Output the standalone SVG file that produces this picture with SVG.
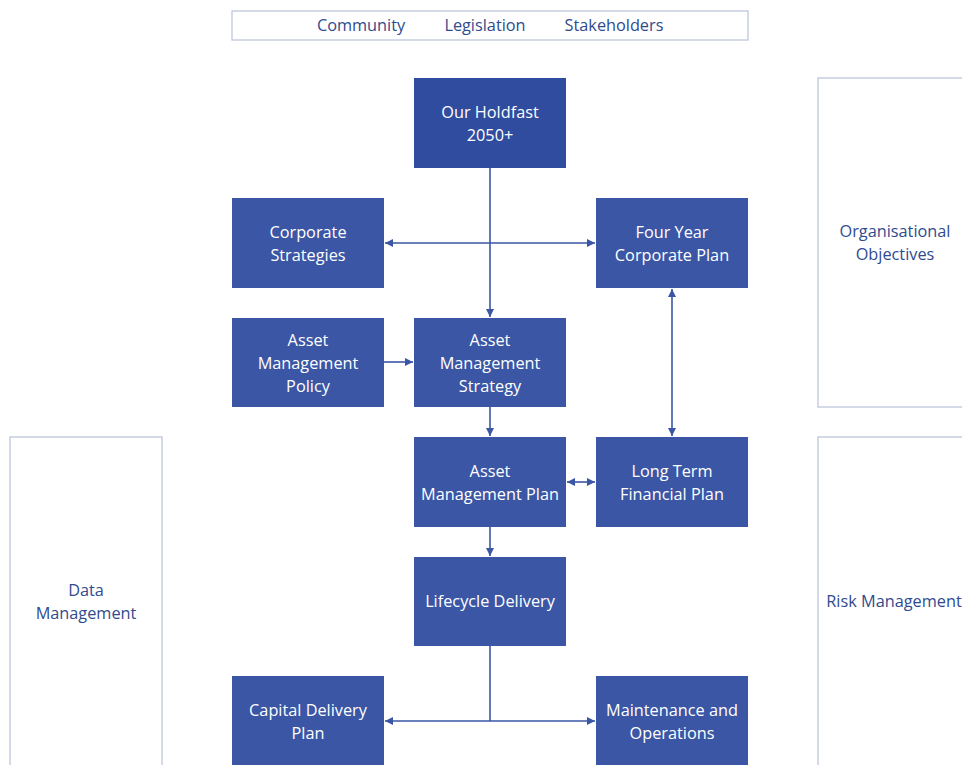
<svg xmlns="http://www.w3.org/2000/svg" width="962" height="765" viewBox="0 0 962 765">
<style>
.n{fill:#3a56a5}
.top{fill:#2f4c9f}
.t{fill:#ffffff;font-family:"Open Sans","Noto Sans",sans-serif;font-size:16.3px;text-anchor:middle}
.s{fill:#ffffff;stroke:#b7c1d9;stroke-width:1.2}
.st{fill:#2f4b8f;font-family:"Open Sans","Noto Sans",sans-serif;font-size:16.3px;text-anchor:middle}
.c{stroke:#3a56a5;stroke-width:1.6;fill:none}
</style>
<defs>
<marker id="ah" viewBox="0 0 10 10" refX="10" refY="5" markerWidth="8" markerHeight="8" orient="auto-start-reverse" markerUnits="userSpaceOnUse">
<path d="M0,0 L10,5 L0,10 z" fill="#3a56a5"/>
</marker>
</defs>
<rect width="962" height="765" fill="#ffffff"/>
<g id="context">
<rect class="s" x="232" y="11" width="516" height="29"/>
<text class="st" x="361" y="31">Community</text>
<text class="st" x="485" y="31">Legislation</text>
<text class="st" x="614" y="31">Stakeholders</text>
</g>
<g id="org-objectives">
<rect class="s" x="818" y="78" width="150" height="329"/>
<text class="st" x="895" y="237">Organisational</text>
<text class="st" x="895" y="260">Objectives</text>
</g>
<g id="risk">
<rect class="s" x="818" y="437" width="150" height="335"/>
<text class="st" x="894" y="607">Risk Management</text>
</g>
<g id="data">
<rect class="s" x="10" y="437" width="152" height="335"/>
<text class="st" x="86" y="596">Data</text>
<text class="st" x="86" y="619">Management</text>
</g>
<g id="connectors">
<line class="c" x1="490" y1="168" x2="490" y2="317" marker-end="url(#ah)"/>
<line class="c" x1="385" y1="243" x2="595" y2="243" marker-start="url(#ah)" marker-end="url(#ah)"/>
<line class="c" x1="384" y1="362" x2="413" y2="362" marker-end="url(#ah)"/>
<line class="c" x1="490" y1="407" x2="490" y2="436" marker-end="url(#ah)"/>
<line class="c" x1="672" y1="289" x2="672" y2="436" marker-start="url(#ah)" marker-end="url(#ah)"/>
<line class="c" x1="567" y1="482" x2="595" y2="482" marker-start="url(#ah)" marker-end="url(#ah)"/>
<line class="c" x1="490" y1="527" x2="490" y2="556" marker-end="url(#ah)"/>
<line class="c" x1="490" y1="646" x2="490" y2="721"/>
<line class="c" x1="490" y1="721" x2="385" y2="721" marker-end="url(#ah)"/>
<line class="c" x1="490" y1="721" x2="595" y2="721" marker-end="url(#ah)"/>
</g>
<g id="holdfast">
<rect class="top" x="414" y="78" width="152" height="90"/>
<text class="t" x="490" y="118">Our Holdfast</text>
<text class="t" x="490" y="141">2050+</text>
</g>
<g id="corporate-strategies">
<rect class="n" x="232" y="198" width="152" height="90"/>
<text class="t" x="308" y="238">Corporate</text>
<text class="t" x="308" y="261">Strategies</text>
</g>
<g id="four-year-plan">
<rect class="n" x="596" y="198" width="152" height="90"/>
<text class="t" x="672" y="238">Four Year</text>
<text class="t" x="672" y="261">Corporate Plan</text>
</g>
<g id="am-policy">
<rect class="n" x="232" y="318" width="152" height="89"/>
<text class="t" x="308" y="346">Asset</text>
<text class="t" x="308" y="369">Management</text>
<text class="t" x="308" y="392">Policy</text>
</g>
<g id="am-strategy">
<rect class="n" x="414" y="318" width="152" height="89"/>
<text class="t" x="490" y="346">Asset</text>
<text class="t" x="490" y="369">Management</text>
<text class="t" x="490" y="392">Strategy</text>
</g>
<g id="am-plan">
<rect class="n" x="414" y="437" width="152" height="90"/>
<text class="t" x="490" y="477">Asset</text>
<text class="t" x="490" y="500">Management Plan</text>
</g>
<g id="ltfp">
<rect class="n" x="596" y="437" width="152" height="90"/>
<text class="t" x="672" y="477">Long Term</text>
<text class="t" x="672" y="500">Financial Plan</text>
</g>
<g id="lifecycle">
<rect class="n" x="414" y="557" width="152" height="89"/>
<text class="t" x="490" y="607">Lifecycle Delivery</text>
</g>
<g id="capital">
<rect class="n" x="232" y="676" width="152" height="95"/>
<text class="t" x="308" y="716">Capital Delivery</text>
<text class="t" x="308" y="739">Plan</text>
</g>
<g id="maintenance">
<rect class="n" x="596" y="676" width="152" height="95"/>
<text class="t" x="672" y="716">Maintenance and</text>
<text class="t" x="672" y="739">Operations</text>
</g>
</svg>
